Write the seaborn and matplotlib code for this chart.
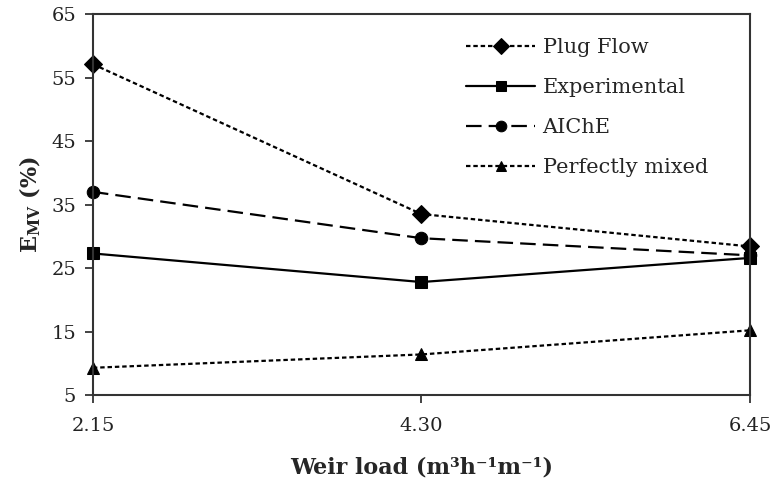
import matplotlib
matplotlib.use("Agg")
import matplotlib.pyplot as plt
import seaborn as sns
import pandas as pd

weir_load = [2.15, 4.30, 6.45]
plug_flow = [57.1, 33.5, 28.4]
experimental = [27.3, 22.8, 26.6]
aiche = [37.0, 29.7, 27.0]
perfectly_mixed = [9.3, 11.4, 15.2]
series_names = ["Plug Flow", "Experimental", "AIChE", "Perfectly mixed"]
x_tick_labels = ["2.15", "4.30", "6.45"]
y_ticks = [5, 15, 25, 35, 45, 55, 65]

sns.set_theme(style="white")
plt.rcParams["font.family"] = ["DejaVu Serif"]
plt.rcParams["mathtext.fontset"] = "custom"
plt.rcParams["mathtext.rm"] = "DejaVu Serif:bold"
plt.rcParams["mathtext.bf"] = "DejaVu Serif:bold"

rows = []
for name, vals in zip(series_names, [plug_flow, experimental, aiche, perfectly_mixed]):
    for x, v in zip(weir_load, vals):
        rows.append({"Weir load": x, "E": v, "Series": name})
df = pd.DataFrame(rows)

fig = plt.figure(figsize=(7.74, 4.83), dpi=100)
ax = fig.add_axes([0.120, 0.182, 0.849, 0.789])

dashes = {
    "Plug Flow": (2.0, 1.3),
    "Experimental": "",
    "AIChE": (7.0, 3.2),
    "Perfectly mixed": (2.0, 1.3),
}
markers = {"Plug Flow": "D", "Experimental": "s", "AIChE": "o", "Perfectly mixed": "^"}

sns.lineplot(data=df, x="Weir load", y="E", hue="Series", style="Series",
             palette=["black"] * 4, dashes=dashes, markers=markers,
             hue_order=series_names, style_order=series_names,
             linewidth=1.6, markersize=9, markeredgecolor="black",
             ax=ax, legend="full")

for line in ax.get_lines():
    line.set_clip_on(False)

ax.set_xlim(2.15, 6.45)
ax.set_ylim(5, 65)
ax.set_xticks(weir_load)
ax.set_xticklabels(x_tick_labels)
ax.set_yticks(y_ticks)
ax.tick_params(axis="both", which="major", direction="out", length=6, width=1.2,
               labelsize=14, colors="#222222", left=True, bottom=True)
ax.tick_params(axis="x", pad=10)
ax.tick_params(axis="y", pad=6)
for sp in ax.spines.values():
    sp.set_color("#333333")
    sp.set_linewidth(1.5)
    sp.set_visible(True)

ax.set_xlabel("Weir load (m³h⁻¹m⁻¹)", fontsize=16, fontweight="bold", labelpad=15)
ax.set_ylabel(r"E$_{\mathrm{MV}}$ (%)", fontsize=16, fontweight="bold", labelpad=6)

leg = ax.legend(loc="upper left", bbox_to_anchor=(0.540, 0.985), frameon=False,
                fontsize=15, handlelength=3.3, labelspacing=1.0, handletextpad=0.35,
                markerscale=0.85)
for h in leg.get_lines():
    h.set_linewidth(1.6)

fig.savefig("out.png", dpi=100)
